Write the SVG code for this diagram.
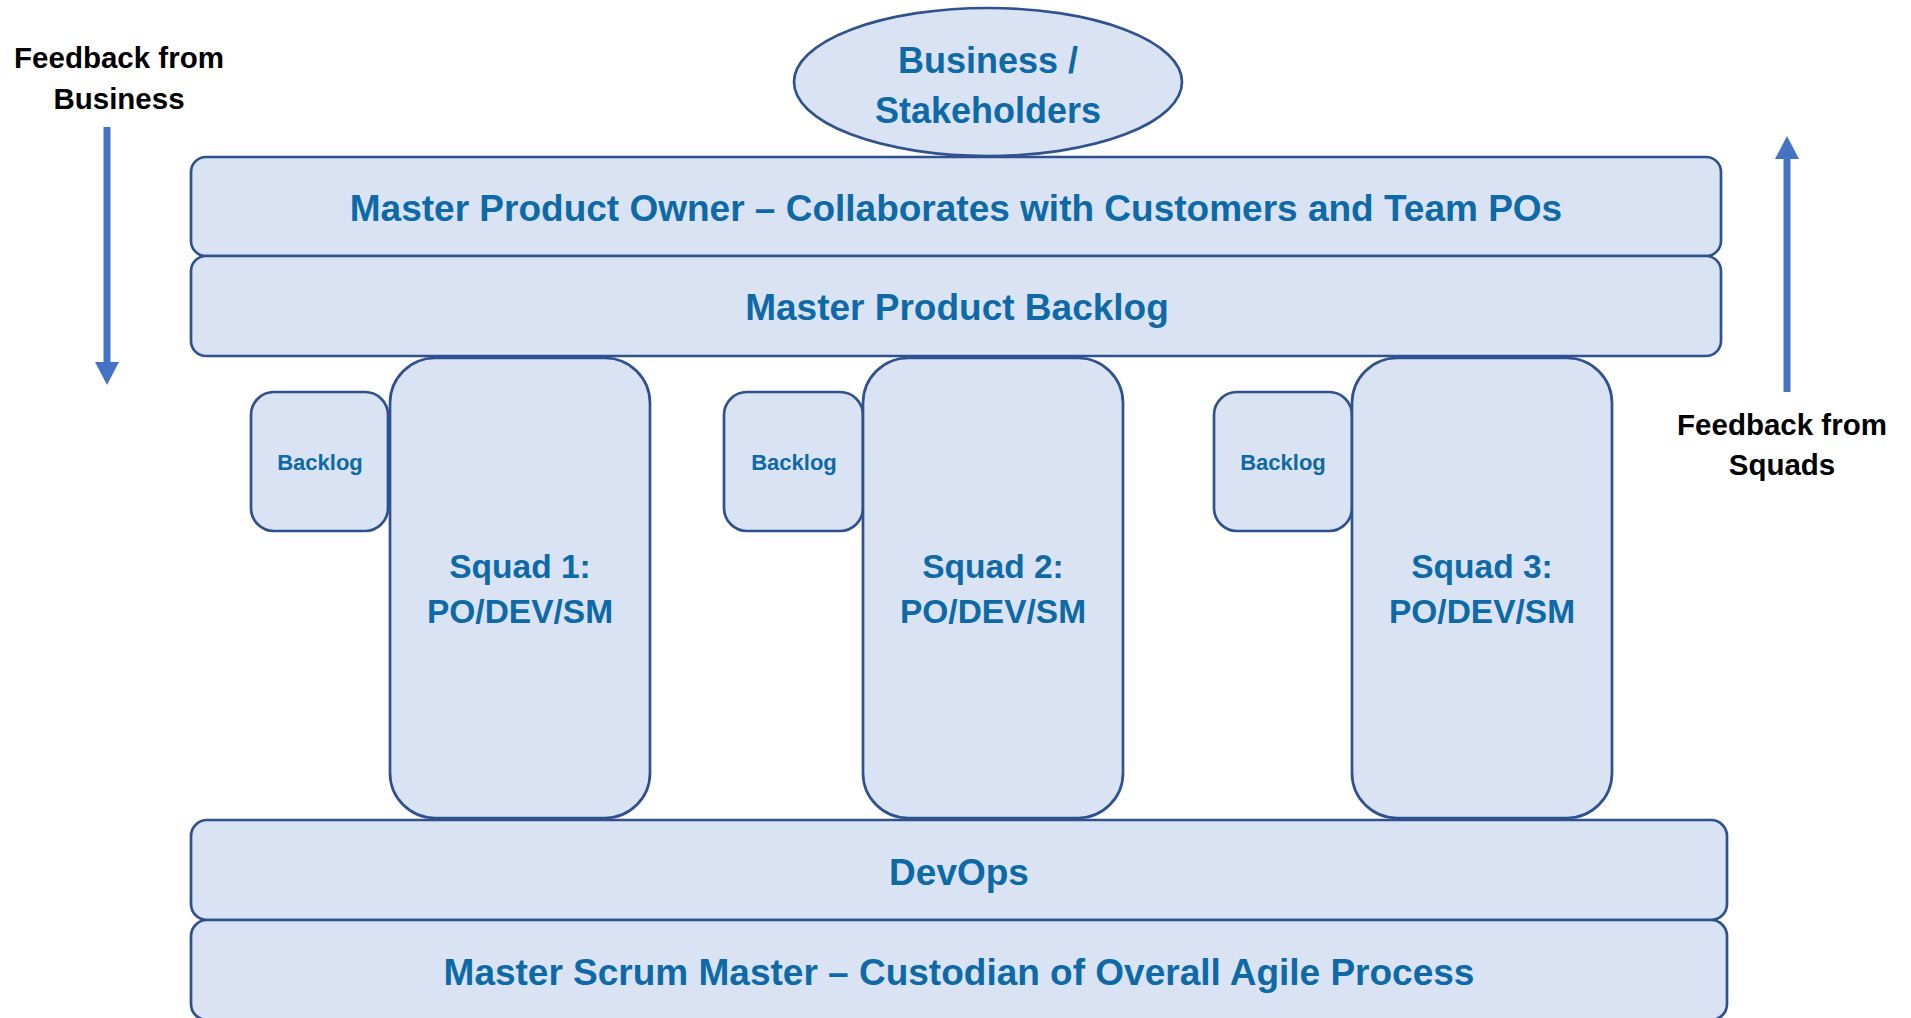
<svg xmlns="http://www.w3.org/2000/svg" width="1911" height="1018" viewBox="0 0 1911 1018">
<style>
.box{fill:#DAE3F3;stroke:#2F528F;stroke-width:2.7}
.t{font-family:"Liberation Sans",Arial,sans-serif;font-weight:bold;fill:#0E69A7;text-anchor:middle}
.k{font-family:"Liberation Sans",Arial,sans-serif;font-weight:bold;fill:#000000;text-anchor:middle;font-size:29.5px}
.arr{stroke:#4472C4;stroke-width:7;fill:none}
</style>
<defs>
<marker id="ah" markerUnits="userSpaceOnUse" markerWidth="24" markerHeight="24" viewBox="0 0 24 24" refX="0" refY="12" orient="auto">
<path d="M0,0 L23,12 L0,24 Z" fill="#4472C4"/>
</marker>
</defs>
<rect width="1911" height="1018" fill="#FFFFFF"/>
<g id="business">
<ellipse class="box" cx="988" cy="82" rx="194" ry="74"/>
<text class="t" x="988" y="73" font-size="36">Business /</text>
<text class="t" x="988" y="123" font-size="36">Stakeholders</text>
</g>
<g id="master-po">
<rect class="box" x="191" y="157" width="1530" height="99" rx="15"/>
<text class="t" x="956" y="221" font-size="37">Master Product Owner – Collaborates with Customers and Team POs</text>
</g>
<g id="master-backlog">
<rect class="box" x="191" y="256" width="1530" height="100" rx="15"/>
<text class="t" x="957" y="320" font-size="37">Master Product Backlog</text>
</g>
<g id="devops">
<rect class="box" x="191" y="820" width="1536" height="100" rx="16"/>
<text class="t" x="959" y="885" font-size="37">DevOps</text>
</g>
<g id="master-sm">
<rect class="box" x="191" y="920" width="1536" height="100" rx="16"/>
<text class="t" x="959" y="985" font-size="37">Master Scrum Master – Custodian of Overall Agile Process</text>
</g>
<g id="backlog1">
<rect class="box" x="251" y="392" width="137" height="139" rx="23"/>
<text class="t" x="320" y="470" font-size="22">Backlog</text>
</g>
<g id="backlog2">
<rect class="box" x="724" y="392" width="139" height="139" rx="23"/>
<text class="t" x="794" y="470" font-size="22">Backlog</text>
</g>
<g id="backlog3">
<rect class="box" x="1214" y="392" width="138" height="139" rx="23"/>
<text class="t" x="1283" y="470" font-size="22">Backlog</text>
</g>
<g id="squad1">
<rect class="box" x="390" y="358" width="260" height="460" rx="45"/>
<text class="t" x="520" y="578" font-size="33.5">Squad 1:</text>
<text class="t" x="520" y="623" font-size="33.5">PO/DEV/SM</text>
</g>
<g id="squad2">
<rect class="box" x="863" y="358" width="260" height="460" rx="45"/>
<text class="t" x="993" y="578" font-size="33.5">Squad 2:</text>
<text class="t" x="993" y="623" font-size="33.5">PO/DEV/SM</text>
</g>
<g id="squad3">
<rect class="box" x="1352" y="358" width="260" height="460" rx="45"/>
<text class="t" x="1482" y="578" font-size="33.5">Squad 3:</text>
<text class="t" x="1482" y="623" font-size="33.5">PO/DEV/SM</text>
</g>
<g id="label-business">
<text class="k" x="119" y="68">Feedback from</text>
<text class="k" x="119" y="109">Business</text>
</g>
<g id="label-squads">
<text class="k" x="1782" y="435">Feedback from</text>
<text class="k" x="1782" y="475">Squads</text>
</g>
<g id="connectors">
<path class="arr" d="M107,127 L107,362" marker-end="url(#ah)"/>
<path class="arr" d="M1787,392 L1787,159" marker-end="url(#ah)"/>
</g>
</svg>
